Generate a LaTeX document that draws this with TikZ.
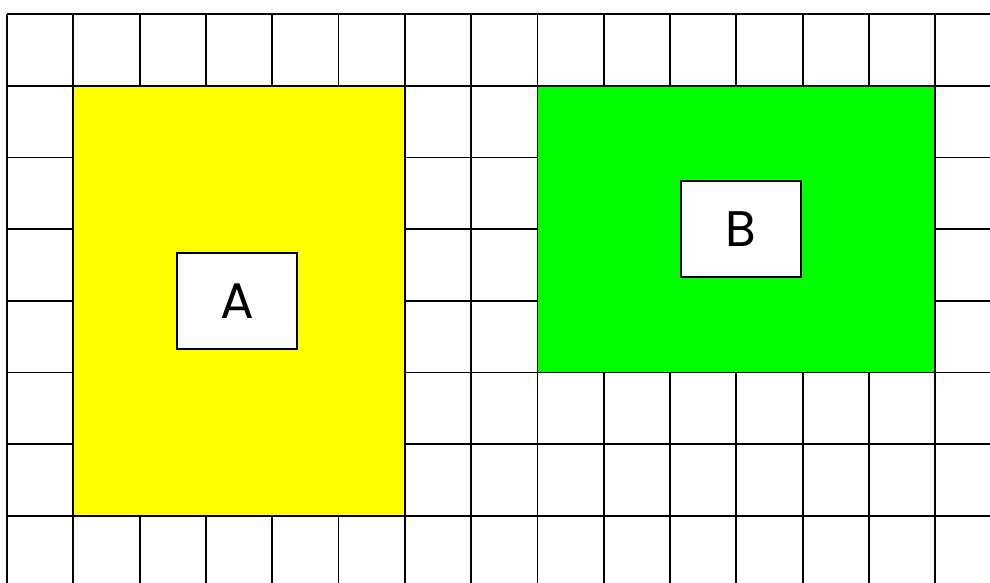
\documentclass[tikz,border=0pt]{standalone}
\usepackage{fontspec}
\setmainfont{Poppins}
\definecolor{areayellow}{RGB}{255,255,0}
\definecolor{areagreen}{RGB}{0,255,0}
\begin{document}
\begin{tikzpicture}[x=1pt,y=1pt,
  gridline/.style={line width=1.8pt,black},
  area/.style={draw=black,line width=1.8pt},
  label box/.style={draw=black,fill=white,line width=1.8pt,minimum width=120pt,minimum height=96pt,inner sep=0pt,font=\fontsize{50}{50}\selectfont}]
\useasboundingbox (0,0) rectangle (990,583);
\fill[white] (0,0) rectangle (990,583);
% grid
\foreach \i in {0,...,14}{
  \draw[gridline] ({7+66.3*\i},0) -- ({7+66.3*\i},569);
}
\foreach \j in {0,...,7}{
  \draw[gridline] (7,{569-71.71*\j}) -- (990,{569-71.71*\j});
}
% coloured areas
\draw[area,fill=areayellow] ({7+66.3},{569-71.71}) rectangle ({7+66.3*6},{569-71.71*7});
\draw[area,fill=areagreen] ({7+66.3*8},{569-71.71}) rectangle ({7+66.3*14},{569-71.71*5});
% labels
\node[label box] (A) at (237,282) {A};
\node[label box] (B) at (741,354) {B};
\end{tikzpicture}
\end{document}
